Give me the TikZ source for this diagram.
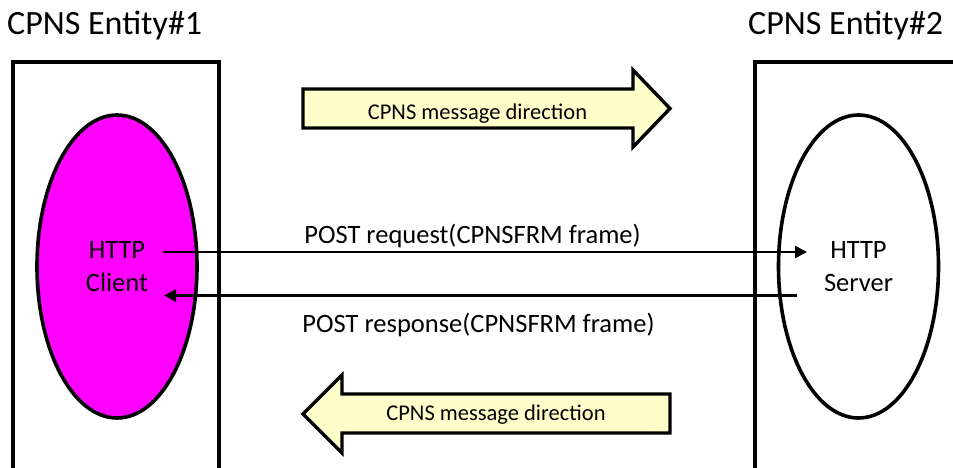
\documentclass[tikz,border=0pt]{standalone}
\usepackage{fontspec}
\setmainfont{Carlito}
\usetikzlibrary{shapes.geometric,arrows.meta}
\definecolor{clientfill}{RGB}{255,0,255}
\definecolor{arrowfill}{RGB}{255,255,204}
\begin{document}
\begin{tikzpicture}[x=1pt,y=-1pt,
  entbox/.style={draw=black, line width=3.2pt},
  endpoint/.style={ellipse, draw=black, line width=3.6pt, minimum width=160pt,
    minimum height=303pt, inner sep=0pt, align=center,
    font=\fontsize{26.5}{32.5}\selectfont},
  title/.style={font=\fontsize{34}{40}\selectfont, anchor=base west, inner sep=0pt},
  msg/.style={line width=2.5pt, -{Triangle[length=12pt,width=12pt]}},
  msglabel/.style={font=\fontsize{26.5}{32}\selectfont, anchor=base, inner sep=0pt},
  blockarrow/.style={draw=black, fill=arrowfill, line width=3.4pt, line join=miter},
  dirlabel/.style={font=\fontsize{22.5}{27}\selectfont, anchor=base, inner sep=0pt}]
\useasboundingbox (0,0) rectangle (953,468);
\clip (0,0) rectangle (953,468);

% titles
\node[title] (t1) at (7,35) {CPNS Entity\#1};
\node[title] (t2) at (748,35) {CPNS Entity\#2};

% entity boxes
\draw[entbox] (13,62) rectangle (219,500);
\draw[entbox] (755,62) rectangle (990,500);

% endpoints
\node[endpoint, fill=clientfill] (client) at (117,266.5) {HTTP\\Client};
\node[endpoint, fill=white] (server) at (858.5,266.5) {HTTP\\Server};

% message connectors
\coordinate (reqA) at (163,252);
\coordinate (reqB) at (807,252);
\coordinate (resA) at (797,295.5);
\coordinate (resB) at (164,295.5);
\draw[msg] (reqA) -- (reqB);
\draw[msg] (resA) -- (resB);
\node[msglabel] (reqlbl) at (472.5,243) {POST request(CPNSFRM frame)};
\node[msglabel] (reslbl) at (478.5,332) {POST response(CPNSFRM frame)};

% block arrows
\draw[blockarrow] (303,89) -- (633,89) -- (633,70) -- (670,108.5) -- (633,147)
  -- (633,128) -- (303,128) -- cycle;
\node[dirlabel] (dir1) at (477.5,119.5) {CPNS message direction};
\draw[blockarrow] (670,394) -- (342,394) -- (342,375) -- (303,414) -- (342,453)
  -- (342,433) -- (670,433) -- cycle;
\node[dirlabel] (dir2) at (496,420) {CPNS message direction};
\end{tikzpicture}
\end{document}
